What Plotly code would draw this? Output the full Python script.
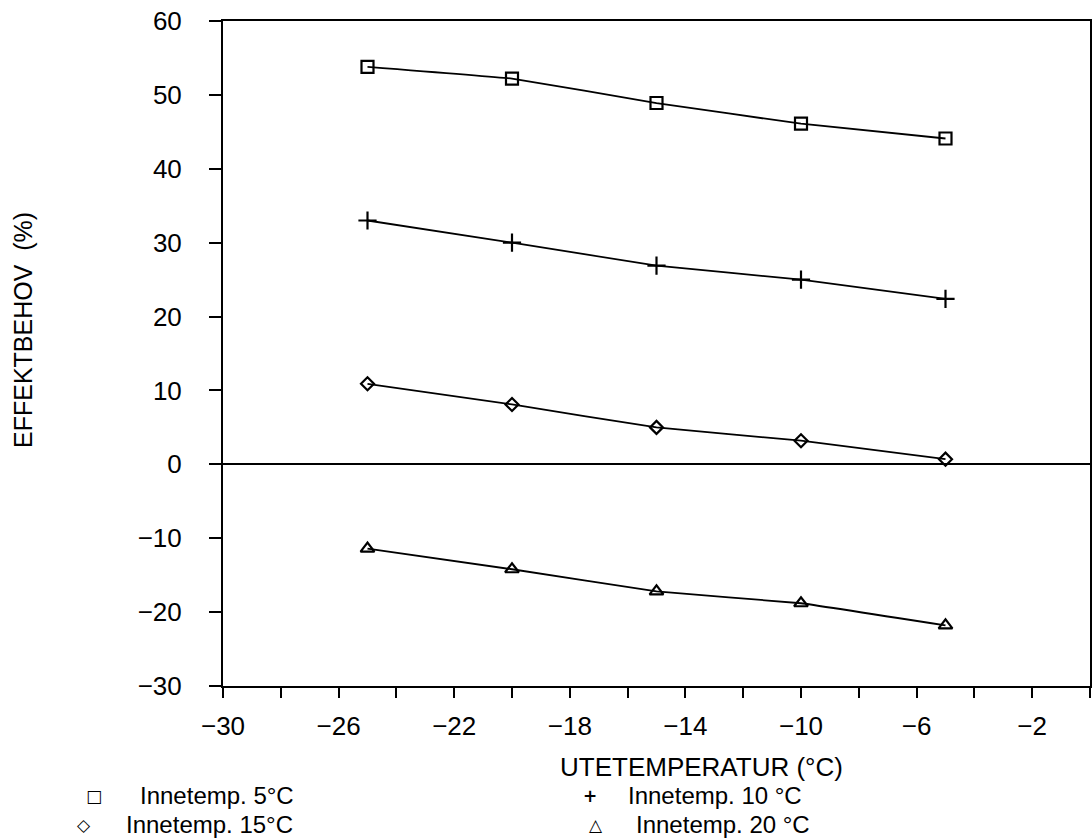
import plotly.graph_objects as go

ute = [-25, -20, -15, -10, -5]
inne5 = [53.8, 52.2, 48.9, 46.1, 44.1]
inne10 = [33.0, 30.0, 26.9, 25.0, 22.4]
inne15 = [10.9, 8.1, 5.0, 3.2, 0.7]
inne20 = [-11.4, -14.2, -17.2, -18.8, -21.8]

names = ["Innetemp. 5\u00b0C", "Innetemp. 10 \u00b0C", "Innetemp. 15\u00b0C", "Innetemp. 20 \u00b0C"]
series = [inne5, inne10, inne15, inne20]
symbols = ["square-open", "cross-thin-open", "diamond-open", "triangle-up-open"]
sizes = [12, 13, 10, 12]
glyphs = ["\u25a1", "+", "\u25c7", "\u25b3"]

x_ticks = list(range(-30, 1, 2))
x_labels = [str(v).replace("-", "\u2212") if (v + 30) % 4 == 0 and v < 0 else "" for v in x_ticks]
y_ticks = list(range(-30, 61, 10))

font = "Liberation Sans, Arial, sans-serif"

fig = go.Figure()
for vals, sym, sz, nm in zip(series, symbols, sizes, names):
    fig.add_trace(go.Scatter(
        x=ute, y=vals, mode="lines+markers", name=nm, showlegend=False,
        line=dict(color="black", width=1.8, shape="spline", smoothing=0.2),
        marker=dict(symbol=sym, size=sz, color="black", line=dict(color="black", width=2.2)),
    ))

# legend as text (two columns, two rows)
leg_glyph_x = [94, 590, 84, 596]
leg_text_x = [139, 627, 125, 635]
leg_y = [796, 796, 825, 825]
for g, nm, gx, tx, ly in zip(glyphs, names, leg_glyph_x, leg_text_x, leg_y):
    fig.add_annotation(xref="paper", yref="paper", x=(gx - 223) / 867, y=(686 - ly) / 665,
                       text="<b>" + g + "</b>", showarrow=False, xanchor="center", yanchor="middle",
                       font=dict(family="DejaVu Sans", size=17, color="black"), borderpad=0)
    fig.add_annotation(xref="paper", yref="paper", x=(tx - 223) / 867, y=(686 - ly) / 665,
                       text=nm, showarrow=False, xanchor="left", yanchor="middle",
                       font=dict(family=font, size=24, color="black"), borderpad=0)

# axis titles
fig.add_annotation(xref="paper", yref="paper", x=(701 - 223) / 867, y=(686 - 767) / 665,
                   text="UTETEMPERATUR (\u00b0C)", showarrow=False, xanchor="center", yanchor="middle",
                   font=dict(family=font, size=26, color="black"), borderpad=0)
fig.add_annotation(xref="paper", yref="paper", x=(23 - 223) / 867, y=(686 - 330) / 665,
                   text="EFFEKTBEHOV  (%)", showarrow=False, textangle=-90,
                   xanchor="center", yanchor="middle",
                   font=dict(family=font, size=25, color="black"))

fig.update_layout(
    width=1092, height=840,
    margin=dict(l=223, r=2, t=21, b=154, autoexpand=False),
    paper_bgcolor="white", plot_bgcolor="white",
    font=dict(family=font, size=26, color="black"),
    showlegend=False,
    xaxis=dict(
        range=[-30, 0], tickmode="array", tickvals=x_ticks, ticktext=x_labels,
        ticks="outside", ticklen=10, tickwidth=2, tickcolor="black",
        ticklabelstandoff=6,
        showline=True, linecolor="black", linewidth=2, mirror=True,
        showgrid=False, zeroline=False, automargin=False,
    ),
    yaxis=dict(
        range=[-30, 60], tickvals=y_ticks,
        ticks="outside", ticklen=12, tickwidth=2, tickcolor="black",
        ticklabelstandoff=22,
        showline=True, linecolor="black", linewidth=2, mirror=True,
        showgrid=False, zeroline=True, zerolinecolor="black", zerolinewidth=2,
        automargin=False,
    ),
)
fig.write_html("out.html", config={"displayModeBar": False},
               post_script="document.body.style.margin='0';document.body.style.overflow='hidden';")
